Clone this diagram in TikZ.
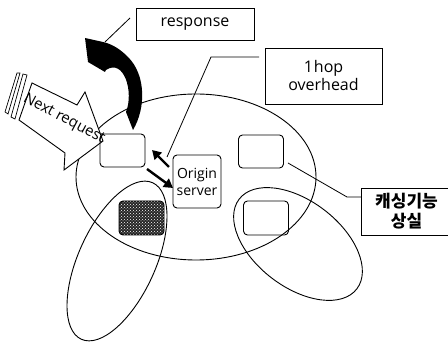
\documentclass[tikz,border=0pt]{standalone}
\usepackage{fontspec}
\setmainfont{Open Sans}
\newfontfamily\kr{Noto Sans CJK KR}
\usetikzlibrary{arrows.meta,patterns}
\begin{document}
\begin{tikzpicture}[x=1pt,y=-1pt,line width=0.9pt,
  sqbox/.style={draw,inner sep=0pt,align=center,font=\fontsize{16}{18}\selectfont},
  rbox/.style={draw,rounded corners=4pt,inner sep=0pt,minimum width=45pt,minimum height=33pt},
  thick arrow/.style={line width=2.4pt,-{Triangle[length=9pt,width=10pt]}},
  thin line/.style={line width=0.8pt}]
\useasboundingbox (0,0) rectangle (448,344);
\clip (0,0) rectangle (448,344);
% ellipses
\draw[shift={(196,177)}] (0,0) ellipse [x radius=120pt, y radius=83pt];
\draw[shift={(117,261)},rotate=65.5] (0,0) ellipse [x radius=86pt, y radius=38.5pt];
\draw[shift={(298,244)},rotate=-37.3] (0,0) ellipse [x radius=74pt, y radius=43pt];
% next request striped block arrow
\draw[fill=white] (32,83) -- (77,105) -- (85,92) -- (103,141) -- (64,170) -- (65,153) -- (19,120) -- cycle;
\draw[fill=white,line width=0.7pt] (23,74) -- (27,75) -- (15,119) -- (11,117) -- cycle;
\draw[fill=white,line width=0.7pt] (17,73) -- (20,73) -- (8,114) -- (5,112) -- cycle;
\node[rotate=-28,inner sep=0pt,font=\fontsize{15}{17}\selectfont] (nreq) at (64,119) {Next request};
% curved response arrow
\fill (133,130) .. controls (146,108) and (146,75) .. (128,57)
  .. controls (120,49) and (112,44) .. (103,42)
  -- (85,38) -- (88,62) -- (105,72) -- (106,70)
  .. controls (124,58) and (134,92) .. (126,112) -- cycle;
% boxes
\node[sqbox,minimum width=118pt,minimum height=32pt] (resp) at (195,24) {response};
\node[sqbox,minimum width=117pt,minimum height=56pt] (hop) at (323.5,76) {1\kern1pt hop\\overhead};
\node[sqbox,minimum width=91pt,minimum height=47pt,font=\kr\bfseries\fontsize{17}{20}\selectfont] (kr) at (406.5,211.5) {캐싱기능\\상실};
\node[rbox] (bA) at (122.5,150.5) {};
\node[rbox] (bB) at (261,151.5) {};
\node[rbox,minimum height=34pt] (bC) at (266,218) {};
\node[rbox,minimum height=34pt,preaction={fill=black!85},pattern=crosshatch dots,pattern color=white] (bH) at (141.5,218) {};
\node[rbox,minimum width=48pt,minimum height=53pt,align=center,font=\fontsize{14}{17}\selectfont] (orig) at (197,181.5) {Origin\\server};
% connectors
\coordinate (r1) at (130,18);
\coordinate (r2) at (105,42);
\draw[thin line] (r1) -- (r2);
\coordinate (h1) at (259,57);
\coordinate (h2) at (211,57);
\coordinate (h3) at (167,157);
\draw[thin line] (h1) -- (h2) -- (h3);
\coordinate (k1) at (361,197);
\coordinate (k2) at (347,197);
\coordinate (k3) at (288,163);
\draw[thin line] (k1) -- (k2) -- (k3);
\coordinate (a1s) at (169,167);
\coordinate (a1e) at (152,150);
\draw[thick arrow] (a1s) -- (a1e);
\coordinate (a2s) at (147,169);
\coordinate (a2e) at (173,188);
\draw[thick arrow] (a2s) -- (a2e);
\end{tikzpicture}
\end{document}
